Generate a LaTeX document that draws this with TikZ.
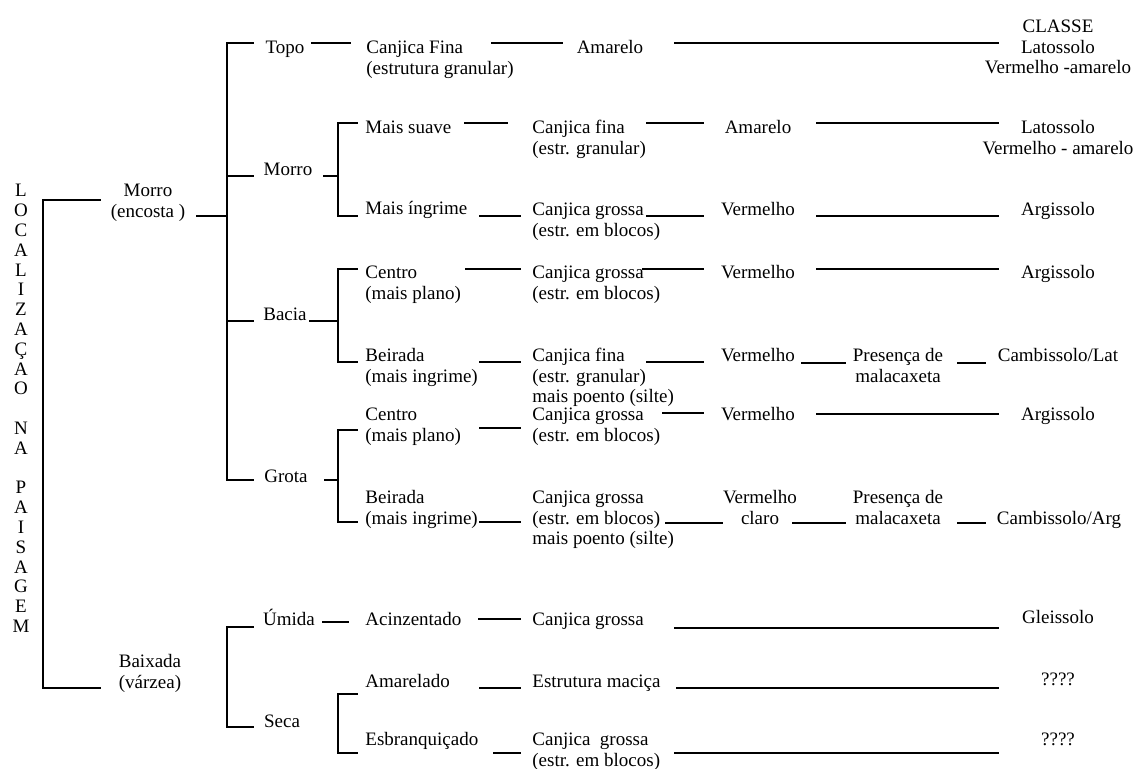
\documentclass[tikz,border=0pt]{standalone}
\usepackage{fontspec}
\setmainfont{Liberation Serif}
\newcommand{\Lt}[1]{\begin{tabular}[t]{@{}l@{}}#1\end{tabular}}
\newcommand{\Ct}[1]{\begin{tabular}[t]{@{}c@{}}#1\end{tabular}}
\begin{document}
\begin{tikzpicture}[x=0.5pt,y=-0.5pt,
  lt/.style={font=\fontsize{9.5}{10.25}\selectfont, inner sep=0pt, anchor=base west},
  ct/.style={font=\fontsize{9.5}{10.25}\selectfont, inner sep=0pt, anchor=base},
  ln/.style={line width=0.75pt, line cap=rect}]
\useasboundingbox (0,0) rectangle (1136,769);
% vertical label
\node[ct, font=\fontsize{9.5}{9.9}\selectfont] (loc) at (21,197)
  {\Ct{L\\O\\C\\A\\L\\I\\Z\\A\\Ç\\A\\O\\\mbox{}\\N\\A\\\mbox{}\\P\\A\\I\\S\\A\\G\\E\\M}};
% root bracket
\coordinate (r1) at (43,200); \coordinate (r2) at (43,688);
\draw[ln] (100,200) -- (r1) -- (r2) -- (100,688);
% level 1
\node[ct] (morroE) at (148,197) {\Ct{Morro\\(encosta )}};
\node[ct] (baixada) at (150,668) {\Ct{Baixada\\(várzea)}};
\draw[ln] (197,216) -- (227,216);
% level 2 bracket (Morro)
\draw[ln] (253,43) -- (227,43) -- (227,480) -- (253,480);
\draw[ln] (227,176) -- (253,176);
\draw[ln] (227,321) -- (253,321);
\node[ct] (topo) at (285,54) {Topo};
\node[ct] (morro2) at (288,176) {Morro};
\node[ct] (bacia) at (285,321) {Bacia};
\node[ct] (grota) at (286,483) {Grota};
% level 2 bracket (Baixada)
\draw[ln] (253,627) -- (227,627) -- (227,727) -- (253,727);
\node[ct] (umida) at (289,626) {Úmida};
\node[ct] (seca) at (282,728) {Seca};
% ---- Topo row
\draw[ln] (312,43) -- (350,43);
\node[lt] (cf1) at (366,54) {\Lt{Canjica Fina\\(estrutura granular)}};
\draw[ln] (492,43) -- (562,43);
\node[ct] (am1) at (610,54) {Amarelo};
\draw[ln] (675,43) -- (998,43);
\node[ct] (cl1) at (1058,33) {\Ct{CLASSE\\Latossolo\\Vermelho -amarelo}};
% ---- Morro sub-bracket
\draw[ln] (324,176) -- (338,176);
\draw[ln] (357,123) -- (338,123) -- (338,216) -- (357,216);
\node[lt] (suave) at (365,134) {Mais suave};
\draw[ln] (465,123) -- (507,123);
\node[lt] (cf2) at (532,134) {\Lt{Canjica fina\\(estr. granular)}};
\draw[ln] (647,123) -- (703,123);
\node[ct] (am2) at (758,134) {Amarelo};
\draw[ln] (817,123) -- (998,123);
\node[ct] (cl2) at (1058,134) {\Ct{Latossolo\\Vermelho - amarelo}};
\node[lt] (ingr) at (365,215) {Mais íngrime};
\draw[ln] (480,216) -- (520,216);
\node[lt] (cg1) at (532,216) {\Lt{Canjica grossa\\(estr. em blocos)}};
\draw[ln] (647,216) -- (703,216);
\node[ct] (ve1) at (758,216) {Vermelho};
\draw[ln] (817,216) -- (998,216);
\node[ct] (cl3) at (1058,216) {Argissolo};
% ---- Bacia sub-bracket
\draw[ln] (310,321) -- (338,321);
\draw[ln] (357,269) -- (338,269) -- (338,362) -- (357,362);
\node[lt] (ce1) at (365,279) {\Lt{Centro\\(mais plano)}};
\draw[ln] (466,269) -- (520,269);
\node[lt] (cg2) at (532,279) {\Lt{Canjica grossa\\(estr. em blocos)}};
\draw[ln] (643,269) -- (703,269);
\node[ct] (ve2) at (758,279) {Vermelho};
\draw[ln] (817,269) -- (998,269);
\node[ct] (cl4) at (1058,279) {Argissolo};
\node[lt] (be1) at (365,362) {\Lt{Beirada\\(mais ingrime)}};
\draw[ln] (480,362) -- (520,362);
\node[lt] (cf3) at (532,362) {\Lt{Canjica fina\\(estr. granular)\\mais poento (silte)}};
\draw[ln] (647,362) -- (703,362);
\node[ct] (ve3) at (758,362) {Vermelho};
\draw[ln] (802,363) -- (845,363);
\node[ct] (pr1) at (898,362) {\Ct{Presença de\\malacaxeta}};
\draw[ln] (958,363) -- (985,363);
\node[ct] (cl5) at (1058,362) {Cambissolo/Lat};
% ---- Grota sub-bracket
\draw[ln] (325,480) -- (338,480);
\draw[ln] (357,430) -- (338,430) -- (338,522) -- (357,522);
\node[lt] (ce2) at (365,421) {\Lt{Centro\\(mais plano)}};
\draw[ln] (480,428) -- (520,428);
\node[lt] (cg3) at (532,421) {\Lt{Canjica grossa\\(estr. em blocos)}};
\draw[ln] (663,413) -- (703,413);
\node[ct] (ve4) at (758,421) {Vermelho};
\draw[ln] (817,414) -- (998,414);
\node[ct] (cl6) at (1058,421) {Argissolo};
\node[lt] (be2) at (365,504) {\Lt{Beirada\\(mais ingrime)}};
\draw[ln] (480,522) -- (520,522);
\node[lt] (cg4) at (532,504) {\Lt{Canjica grossa\\(estr. em blocos)\\mais poento (silte)}};
\draw[ln] (666,523) -- (722,523);
\node[ct] (ve5) at (760,504) {\Ct{Vermelho\\claro}};
\draw[ln] (793,523) -- (845,523);
\node[ct] (pr2) at (898,504) {\Ct{Presença de\\malacaxeta}};
\draw[ln] (958,523) -- (985,523);
\node[ct] (cl7) at (1059,525) {Cambissolo/Arg};
% ---- Úmida row
\draw[ln] (323,622) -- (348,622);
\node[lt] (aci) at (365,626) {Acinzentado};
\draw[ln] (479,619) -- (520,619);
\node[lt] (cg5) at (532,626) {Canjica grossa};
\draw[ln] (675,628) -- (998,628);
\node[ct] (cl8) at (1058,624) {Gleissolo};
% ---- Seca sub-bracket
\draw[ln] (357,694) -- (338,694) -- (338,753) -- (357,753);
\node[lt] (ama) at (365,688) {Amarelado};
\draw[ln] (480,688) -- (520,688);
\node[lt] (est) at (532,688) {Estrutura maciça};
\draw[ln] (677,688) -- (998,688);
\node[ct] (cl9) at (1058,686) {????};
\node[lt] (esb) at (365,746) {Esbranquiçado};
\draw[ln] (494,753) -- (520,753);
\node[lt] (cg6) at (532,746) {\Lt{Canjica\ \ grossa\\(estr. em blocos)}};
\draw[ln] (675,753) -- (998,753);
\node[ct] (cl10) at (1058,746) {????};
\end{tikzpicture}
\end{document}
